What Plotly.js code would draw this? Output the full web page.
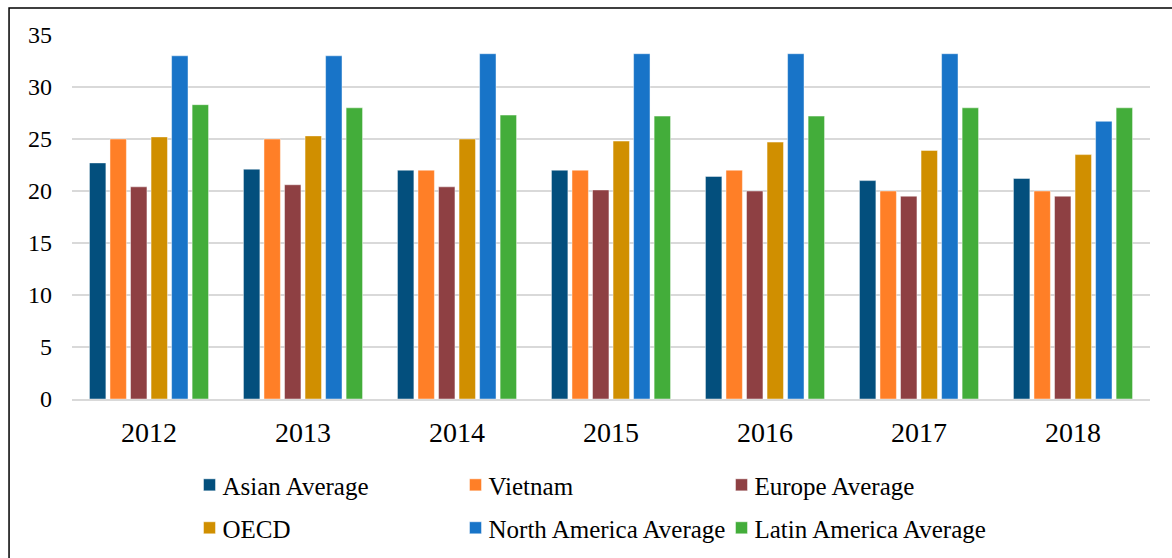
<!DOCTYPE html>
<html><head><meta charset="utf-8">
<script src="https://cdn.plot.ly/plotly-3.0.1.min.js"></script>
<style>
body{margin:0;background:#fff;}
#chart{width:1172px;height:558px;}
#chart .infolayer text{transform:translateX(-7px);}
#chart .infolayer .scrollbox{clip-path:none !important;}
</style>
</head><body><div id="chart"></div>
<script>
const years = ['2012','2013','2014','2015','2016','2017','2018'];
const asianAverage   = [22.7, 22.1, 22.0, 22.0, 21.4, 21.0, 21.2];
const vietnam        = [25.0, 25.0, 22.0, 22.0, 22.0, 20.0, 20.0];
const europeAverage  = [20.4, 20.6, 20.4, 20.1, 20.0, 19.5, 19.5];
const oecd           = [25.2, 25.3, 25.0, 24.8, 24.7, 23.9, 23.5];
const northAmerica   = [33.0, 33.0, 33.2, 33.2, 33.2, 33.2, 26.7];
const latinAmerica   = [28.3, 28.0, 27.3, 27.2, 27.2, 28.0, 28.0];
const seriesNames = ['Asian Average','Vietnam','Europe Average','OECD','North America Average','Latin America Average'];
const seriesValues = [asianAverage, vietnam, europeAverage, oecd, northAmerica, latinAmerica];
const colors = ['#034f7d','#ff7f27','#8e4043','#d08f00','#1874c8','#43ad3a'];
const legendOf = ['legend','legend','legend','legend2','legend2','legend2'];

const traces = seriesNames.map((n,i)=>({
  type:'bar', name:n, x:years, y:seriesValues[i],
  marker:{color:colors[i], line:{color:'rgba(255,255,255,0.45)', width:1}},
  legend: legendOf[i], hoverinfo:'x+y+name'
}));

const serif = 'Liberation Serif';
const legendCommon = {
  orientation:'h', xanchor:'left', yanchor:'middle', x:0.109,
  entrywidth:221, entrywidthmode:'pixels', itemwidth:30,
  font:{family:serif, size:25, color:'#000'},
  bgcolor:'rgba(0,0,0,0)', traceorder:'normal'
};

const layout = {
  width:1172, height:558,
  margin:{l:72, r:22, t:35, b:159, autoexpand:false},
  paper_bgcolor:'#fff', plot_bgcolor:'#fff',
  barmode:'group', bargap:0.2, bargroupgap:0.2,
  showlegend:true,
  legend:Object.assign({}, legendCommon, {y:-0.2365}),
  legend2:Object.assign({}, legendCommon, {y:-0.3545}),
  xaxis:{
    type:'category', showgrid:false, zeroline:false,
    showline:true, linecolor:'#d9d9d9', linewidth:2,
    ticks:'', ticklabelstandoff:7,
    tickfont:{family:serif, size:28, color:'#000'}
  },
  yaxis:{
    range:[0,35], tickvals:[0,5,10,15,20,25,30,35],
    showgrid:true, gridcolor:'#d9d9d9', gridwidth:1.5,
    zeroline:false, showline:false, ticks:'', ticklabelstandoff:19,
    tickfont:{family:serif, size:24, color:'#000'}
  },
  shapes:[{type:'rect', xref:'paper', yref:'paper', x0:-0.0584, x1:1.3, y0:-1, y1:1.0742,
           line:{color:'#000', width:1.5}, fillcolor:'rgba(0,0,0,0)', layer:'below'}]
};

const gd = document.getElementById('chart');
Plotly.newPlot(gd, traces, layout, {displayModeBar:false, staticPlot:true});
</script></body></html>
